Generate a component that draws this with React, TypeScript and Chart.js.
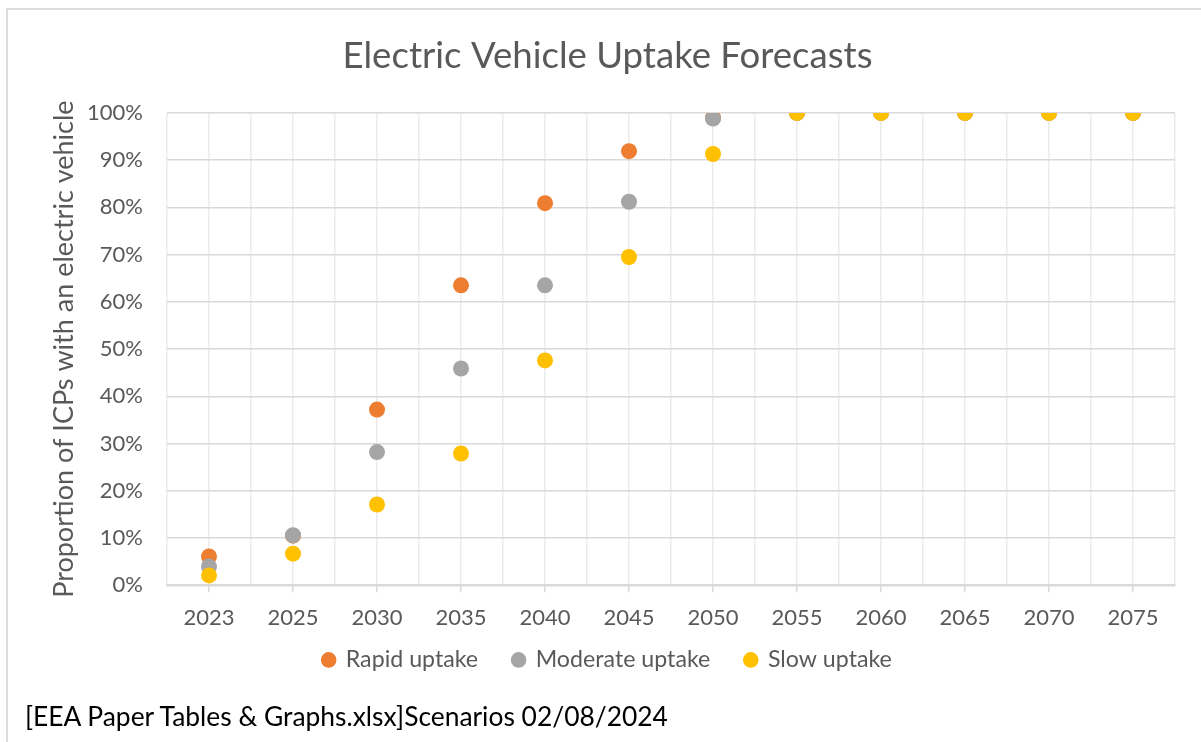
import React, { useEffect, useRef } from 'react';
import { Chart, registerables } from 'chart.js';

Chart.register(...registerables);

const years = ['2023', '2025', '2030', '2035', '2040', '2045', '2050', '2055', '2060', '2065', '2070', '2075'];
const rapidUptake = [6.1, 10.5, 37.2, 63.5, 80.9, 91.9, 99.0, 100, 100, 100, 100, 100];
const moderateUptake = [4.0, 10.6, 28.2, 45.9, 63.5, 81.2, 98.8, 100, 100, 100, 100, 100];
const slowUptake = [2.1, 6.7, 17.1, 27.9, 47.6, 69.5, 91.3, 100, 100, 100, 100, 100];

const TEXT = '#595959';
const FONT = 'Lato';

const legendShift = {
  id: 'legendShift',
  afterLayout(chart: any) {
    const l = chart.legend;
    if (l) {
      l.top -= 20;
      l.bottom -= 20;
    }
  },
};

export default function App() {
  const ref = useRef<HTMLCanvasElement | null>(null);

  useEffect(() => {
    document.body.style.margin = '0';
    document.body.style.overflow = 'hidden';
    const canvas = ref.current;
    if (!canvas) return;
    const toPts = (arr: number[]) => arr.map((v, i) => ({ x: i, y: v }));
    const chart = new Chart(canvas, {
      type: 'scatter',
      data: {
        datasets: [
          { label: 'Rapid uptake', data: toPts(rapidUptake), backgroundColor: '#ED7D31', borderWidth: 0, pointRadius: 8, pointHoverRadius: 8, order: 3 },
          { label: 'Moderate uptake', data: toPts(moderateUptake), backgroundColor: '#A5A5A5', borderWidth: 0, pointRadius: 8, pointHoverRadius: 8, order: 2 },
          { label: 'Slow uptake', data: toPts(slowUptake), backgroundColor: '#FFC000', borderWidth: 0, pointRadius: 8, pointHoverRadius: 8, order: 1 },
        ],
      },
      plugins: [legendShift],
      options: {
        animation: false,
        responsive: false,
        maintainAspectRatio: false,
        layout: { padding: { left: 40, right: 26, top: 0, bottom: 40.5 } },
        plugins: {
          title: {
            display: true,
            text: 'Electric Vehicle Uptake Forecasts',
            color: TEXT,
            font: { family: FONT, size: 36.6, weight: 'normal' },
            padding: { top: 34.2, bottom: 34.8 },
          },
          legend: {
            position: 'bottom',
            labels: {
              usePointStyle: true,
              pointStyle: 'circle',
              boxWidth: 11,
              boxHeight: 11,
              padding: 35,
              color: TEXT,
              font: { family: FONT, size: 23.2 },
              sort: (a: any, b: any) => a.datasetIndex - b.datasetIndex,
            },
          },
          tooltip: { enabled: false },
        },
        scales: {
          x: {
            type: 'linear',
            min: -0.5,
            max: 11.5,
            ticks: {
              stepSize: 0.5,
              autoSkip: false,
              maxRotation: 0,
              minRotation: 0,
              padding: 12,
              color: TEXT,
              font: { family: FONT, size: 22 },
              callback: (v: any) => (Number.isInteger(v) ? years[v] : ''),
            },
            grid: {
              color: '#ececec',
              lineWidth: 1.5,
              tickLength: 7,
              tickColor: (ctx: any) => (ctx.tick && Number.isInteger(ctx.tick.value) ? '#d9d9d9' : 'rgba(0,0,0,0)'),
            },
            border: { color: '#d9d9d9', width: 2 },
            afterFit: (s: any) => {
              s.height = 48;
            },
          },
          y: {
            min: 0,
            max: 100,
            ticks: {
              stepSize: 10,
              padding: 24,
              color: TEXT,
              font: { family: FONT, size: 22 },
              callback: (v: any) => v + '%',
            },
            grid: { color: '#d9d9d9', lineWidth: 1.5, drawTicks: false },
            border: { display: false },
            title: {
              display: true,
              text: 'Proportion of ICPs with an electric vehicle',
              color: TEXT,
              font: { family: FONT, size: 27 },
              padding: { top: 8, bottom: 0 },
            },
            afterFit: (s: any) => {
              s.width = 127;
            },
          },
        },
      },
    } as any);
    return () => chart.destroy();
  }, []);

  return (
    <div style={{ position: 'relative', width: 1201, height: 742, overflow: 'hidden', background: '#fff' }}>
      <div
        style={{
          position: 'absolute',
          left: 6,
          top: 8,
          width: 1400,
          height: 1000,
          border: '2px solid #dcdcdc',
          boxSizing: 'border-box',
        }}
      />
      <canvas ref={ref} width={1201} height={742} style={{ position: 'absolute', left: 0, top: 0, width: 1201, height: 742 }} />
      <div
        style={{
          position: 'absolute',
          left: 25,
          top: 701,
          fontFamily: FONT,
          fontSize: 26.4,
          lineHeight: '30px',
          color: '#000',
          whiteSpace: 'nowrap',
        }}
      >
        [EEA Paper Tables &amp; Graphs.xlsx]Scenarios 02/08/2024
      </div>
    </div>
  );
}
